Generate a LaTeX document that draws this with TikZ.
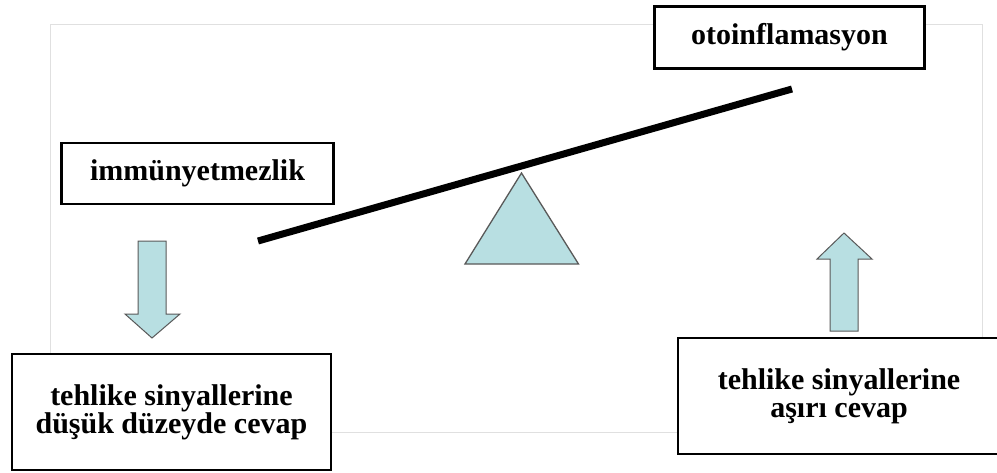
\documentclass[tikz,border=0pt]{standalone}
\usepackage{fontspec}
\setmainfont{Liberation Serif}
\begin{document}
\begin{tikzpicture}[x=1pt,y=-1pt,
  labelbox/.style={draw=black, line width=2.6pt, fill=white, inner sep=0pt, align=center,
     font=\bfseries\fontsize{30}{28}\selectfont},
  cyanshape/.style={fill=seesaw, draw=black!65, line width=1pt, line join=miter}]
\definecolor{seesaw}{RGB}{184,223,226}
\colorlet{framegray}{black!12}
\useasboundingbox (0,0) rectangle (997,472);
\clip (0,0) rectangle (997,472);
\fill[white] (0,0) rectangle (997,472);
% faint frame
\draw[framegray, line width=0.8pt] (50,24) rectangle (982,432);
% beam
\coordinate (beamL) at (258,241);
\coordinate (beamR) at (792,89);
\draw[line width=7pt, line cap=butt] (beamL) -- (beamR);
% fulcrum
\coordinate (apex) at (521.5,173);
\coordinate (baseL) at (465,264);
\coordinate (baseR) at (578.5,264);
\filldraw[cyanshape, line width=1.3pt] (apex) -- (baseR) -- (baseL) -- cycle;
% down arrow
\coordinate (downtip) at (152,338);
\filldraw[cyanshape] (138,241) -- (166,241) -- (166,314) -- (180,314) -- (downtip) -- (125,314) -- (138,314) -- cycle;
% up arrow
\coordinate (uptip) at (844,233);
\filldraw[cyanshape] (830,331) -- (858,331) -- (858,259) -- (872,259) -- (uptip) -- (817,259) -- (830,259) -- cycle;
% boxes
\node[labelbox, minimum width=270pt, minimum height=62pt] (oto) at (789.5,37.5) {otoinflamasyon};
\node[labelbox, minimum width=272pt, minimum height=61pt] (imm) at (197.5,173.5) {immünyetmezlik};
\node[labelbox, minimum width=319pt, minimum height=116pt] (low) at (171.5,412) {tehlike sinyallerine\\düşük düzeyde cevap};
\node[labelbox, minimum width=322pt, minimum height=116pt] (high) at (839,396) {tehlike sinyallerine\\aşırı cevap};
\end{tikzpicture}
\end{document}
